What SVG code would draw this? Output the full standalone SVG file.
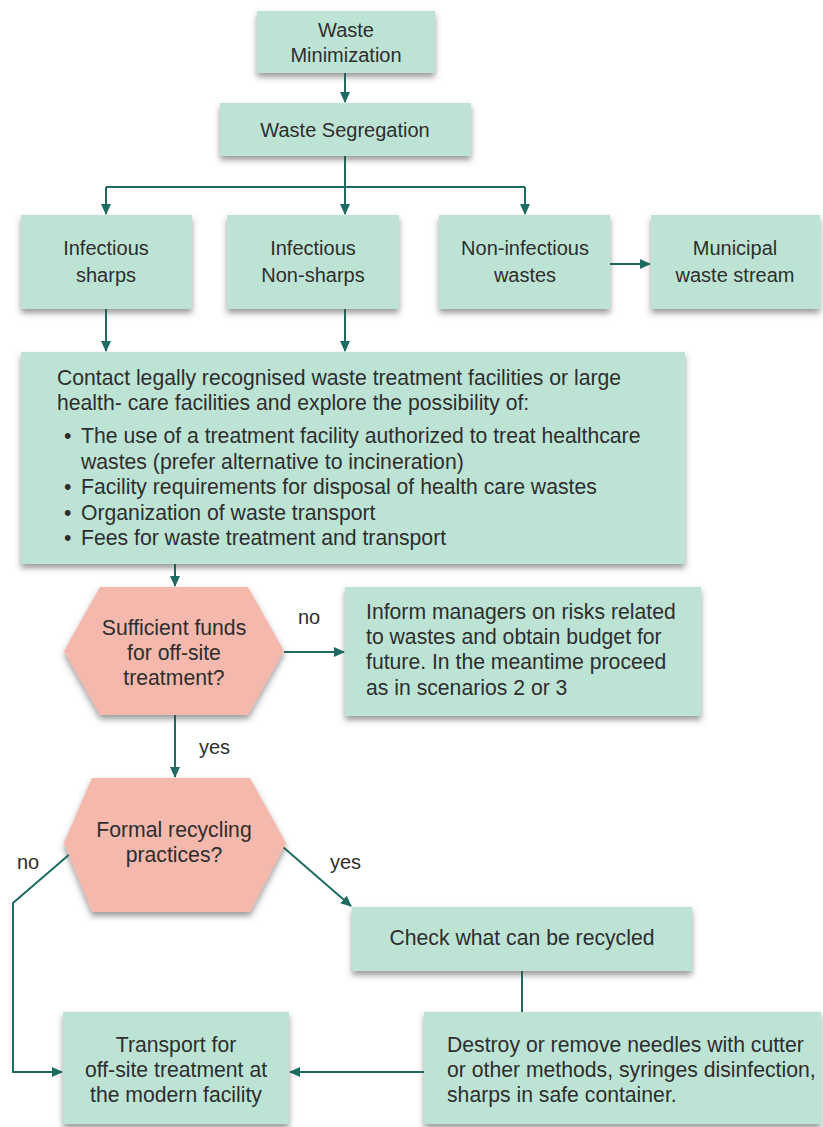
<svg xmlns="http://www.w3.org/2000/svg" width="823" height="1127" viewBox="0 0 823 1127">
<style>
.box{fill:#bde3d4;filter:url(#sh)}
.hex{fill:#f4b8ad;filter:url(#sh)}
.t{font-family:"Liberation Sans",Arial,sans-serif;font-size:20px;fill:#2e2e2e}
.b{font-size:21.2px}
.c{text-anchor:middle}
.ln{fill:none;stroke:#1d6b62;stroke-width:2}
.arr{marker-end:url(#ah)}
</style>
<defs>
<filter id="sh" x="-10%" y="-10%" width="120%" height="130%">
<feDropShadow dx="0" dy="4" stdDeviation="3" flood-color="#444" flood-opacity="0.55"/>
</filter>
<marker id="ah" markerUnits="userSpaceOnUse" markerWidth="11" markerHeight="10" refX="10" refY="5" orient="auto">
<path d="M0,0 L11,5 L0,10 z" fill="#1d6b62"/>
</marker>
</defs>
<rect width="823" height="1127" fill="#ffffff"/>

<g id="connectors">
<path class="ln arr" d="M345 73 V102"/>
<path class="ln arr" d="M345 156 V214"/>
<path class="ln" d="M106 187 H525"/>
<path class="ln arr" d="M106 187 V214"/>
<path class="ln arr" d="M525 187 V214"/>
<path class="ln arr" d="M610 264 H650"/>
<path class="ln arr" d="M106 309 V351"/>
<path class="ln arr" d="M345 309 V351"/>
<path class="ln arr" d="M175 564 V586"/>
<path class="ln arr" d="M284 652 H344"/>
<path class="ln arr" d="M175 715 V777"/>
<path class="ln arr" d="M71 853 L13 903 V1072 H62"/>
<path class="ln arr" d="M283 847 L351 906"/>
<path class="ln" d="M522 971 V1012"/>
<path class="ln arr" d="M424 1072 H290"/>
<text class="t" x="298" y="624">no</text>
<text class="t" x="199" y="754">yes</text>
<text class="t" x="17" y="869">no</text>
<text class="t" x="330" y="869">yes</text>
</g>

<g id="waste-minimization">
<rect class="box" x="257" y="11" width="178" height="62"/>
<text class="t c" x="346" y="37">Waste</text>
<text class="t c" x="346" y="62">Minimization</text>
</g>

<g id="waste-segregation">
<rect class="box" x="220" y="103" width="251" height="53"/>
<text class="t c" x="345" y="137">Waste Segregation</text>
</g>

<g id="infectious-sharps">
<rect class="box" x="21" y="215" width="171" height="94"/>
<text class="t c" x="106" y="255">Infectious</text>
<text class="t c" x="106" y="282">sharps</text>
</g>

<g id="infectious-nonsharps">
<rect class="box" x="227" y="215" width="172" height="94"/>
<text class="t c" x="313" y="255">Infectious</text>
<text class="t c" x="313" y="282">Non-sharps</text>
</g>

<g id="non-infectious">
<rect class="box" x="439" y="215" width="171" height="94"/>
<text class="t c" x="525" y="255">Non-infectious</text>
<text class="t c" x="525" y="282">wastes</text>
</g>

<g id="municipal">
<rect class="box" x="651" y="215" width="169" height="94"/>
<text class="t c" x="735" y="255">Municipal</text>
<text class="t c" x="735" y="282">waste stream</text>
</g>

<g id="contact">
<rect class="box" x="21" y="352" width="664" height="212"/>
<text class="t b" x="57" y="385">Contact legally recognised waste treatment facilities or large</text>
<text class="t b" x="57" y="410">health- care facilities and explore the possibility of:</text>
<text class="t b" x="64" y="443">•</text>
<text class="t b" x="81" y="443">The use of a treatment facility authorized to treat healthcare</text>
<text class="t b" x="81" y="469">wastes (prefer alternative to incineration)</text>
<text class="t b" x="64" y="494">•</text>
<text class="t b" x="81" y="494">Facility requirements for disposal of health care wastes</text>
<text class="t b" x="64" y="520">•</text>
<text class="t b" x="81" y="520">Organization of waste transport</text>
<text class="t b" x="64" y="545">•</text>
<text class="t b" x="81" y="545">Fees for waste treatment and transport</text>
</g>

<g id="sufficient-funds">
<polygon class="hex" points="64,651 100,587 248,587 284,651 248,715 100,715"/>
<text class="t b c" x="174" y="635">Sufficient funds</text>
<text class="t b c" x="174" y="660">for off-site</text>
<text class="t b c" x="174" y="685">treatment?</text>
</g>

<g id="inform-managers">
<rect class="box" x="345" y="587" width="356" height="129"/>
<text class="t b" x="366" y="619">Inform managers on risks related</text>
<text class="t b" x="366" y="644">to wastes and obtain budget for</text>
<text class="t b" x="366" y="669">future. In the meantime proceed</text>
<text class="t b" x="366" y="695">as in scenarios 2 or 3</text>
</g>

<g id="formal-recycling">
<polygon class="hex" points="64,843 92,778 250,778 286,843 250,912 92,912"/>
<text class="t b c" x="174" y="837">Formal recycling</text>
<text class="t b c" x="174" y="862">practices?</text>
</g>

<g id="check-recycled">
<rect class="box" x="352" y="907" width="340" height="64"/>
<text class="t b c" x="522" y="945">Check what can be recycled</text>
</g>

<g id="transport">
<rect class="box" x="63" y="1012" width="226" height="112"/>
<text class="t b c" x="176" y="1052">Transport for</text>
<text class="t b c" x="176" y="1077">off-site treatment at</text>
<text class="t b c" x="176" y="1102">the modern facility</text>
</g>

<g id="destroy">
<rect class="box" x="424" y="1012" width="397" height="112"/>
<text class="t b" x="447" y="1052">Destroy or remove needles with cutter</text>
<text class="t b" x="447" y="1077">or other methods, syringes disinfection,</text>
<text class="t b" x="447" y="1102">sharps in safe container.</text>
</g>
</svg>
